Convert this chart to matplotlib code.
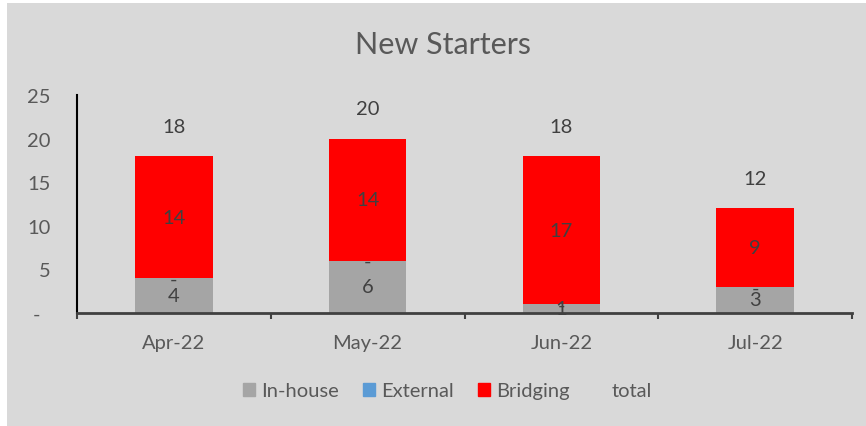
import numpy as np
import matplotlib
matplotlib.use("Agg")
import matplotlib.pyplot as plt
from matplotlib.patches import Patch, Rectangle
from matplotlib.lines import Line2D

plt.rcParams['font.family'] = ['Lato', 'DejaVu Sans']

# data
months = ['Apr-22', 'May-22', 'Jun-22', 'Jul-22']
inhouse = [4, 6, 1, 3]
external = [0, 0, 0, 0]
bridging = [14, 14, 17, 9]
total = [18, 20, 18, 12]

c_inhouse = '#a5a5a5'
c_external = '#5b9bd5'
c_bridging = '#ff0000'
bg = '#d9d9d9'
txt = '#595959'
lbl = '#404040'
fs = 14.5


def fmt(v):
    # accounting style, zero shows as a dash
    return '-' if v == 0 else str(v)


fig = plt.figure(figsize=(8.66, 4.27), dpi=100, facecolor='white')
fig.patches.append(Rectangle((7 / 866, 0), 1, 1 - 4 / 427, transform=fig.transFigure,
                             facecolor=bg, edgecolor='none', zorder=-10))
ax = fig.add_axes([77 / 866, 1 - 314 / 427, (852 - 77) / 866, (314 - 96) / 427])
ax.set_facecolor('none')

x = np.arange(len(months))
w = 0.4
inh = np.array(inhouse)
ext = np.array(external)
brd = np.array(bridging)

ax.bar(x, inh, w, color=c_inhouse)
ax.bar(x, ext, w, bottom=inh, color=c_external)
ax.bar(x, brd, w, bottom=inh + ext, color=c_bridging)

for i in range(len(months)):
    ax.text(x[i], inh[i] / 2, fmt(inh[i]), ha='center', va='center', fontsize=fs, color=lbl)
    ax.annotate(fmt(ext[i]), (x[i], inh[i] + ext[i] / 2), xytext=(0, -1), textcoords='offset pixels',
                ha='center', va='center', fontsize=fs, color=lbl)
    ax.text(x[i], inh[i] + ext[i] + brd[i] / 2, fmt(brd[i]), ha='center', va='center', fontsize=fs, color=lbl)
    ax.annotate(str(total[i]), (x[i], total[i]), xytext=(0, 30), textcoords='offset pixels',
                ha='center', va='center', fontsize=fs, color=lbl)

ax.set_xlim(-0.5, len(months) - 0.5)
ax.set_ylim(0, 25)
ax.set_yticks([0, 5, 10, 15, 20, 25])
ax.set_yticklabels(['-  ', '5', '10', '15', '20', '25'])
ax.tick_params(axis='y', length=0, pad=19, labelsize=fs, labelcolor=txt)
ax.set_xticks(x)
ax.set_xticklabels(months)
ax.set_xticks(np.arange(-0.5, len(months), 1), minor=True)
ax.tick_params(axis='x', which='major', length=0, pad=15, labelsize=fs, labelcolor=txt)
ax.tick_params(axis='x', which='minor', length=4, width=1.5, color='#404040', direction='out')

for s in ['top', 'right']:
    ax.spines[s].set_visible(False)
ax.spines['left'].set_color('black')
ax.spines['left'].set_linewidth(1.5)
ax.spines['bottom'].set_color('#404040')
ax.spines['bottom'].set_linewidth(2)

fig.text(0.511, 1 - 45 / 427, 'New Starters', ha='center', va='center', fontsize=22, color=txt)

handles = [Patch(color=c_inhouse), Patch(color=c_external), Patch(color=c_bridging),
           Line2D([], [], linestyle='none')]
fig.legend(handles, ['In-house', 'External', 'Bridging', 'total'], loc='center',
           bbox_to_anchor=(0.517, 1 - 392 / 427), ncol=4, frameon=False, fontsize=fs,
           handlelength=0.6, handleheight=0.6, handletextpad=0.3, columnspacing=1.2,
           labelcolor=txt)

plt.savefig('out.png', dpi=100, facecolor=fig.get_facecolor())
plt.close()
